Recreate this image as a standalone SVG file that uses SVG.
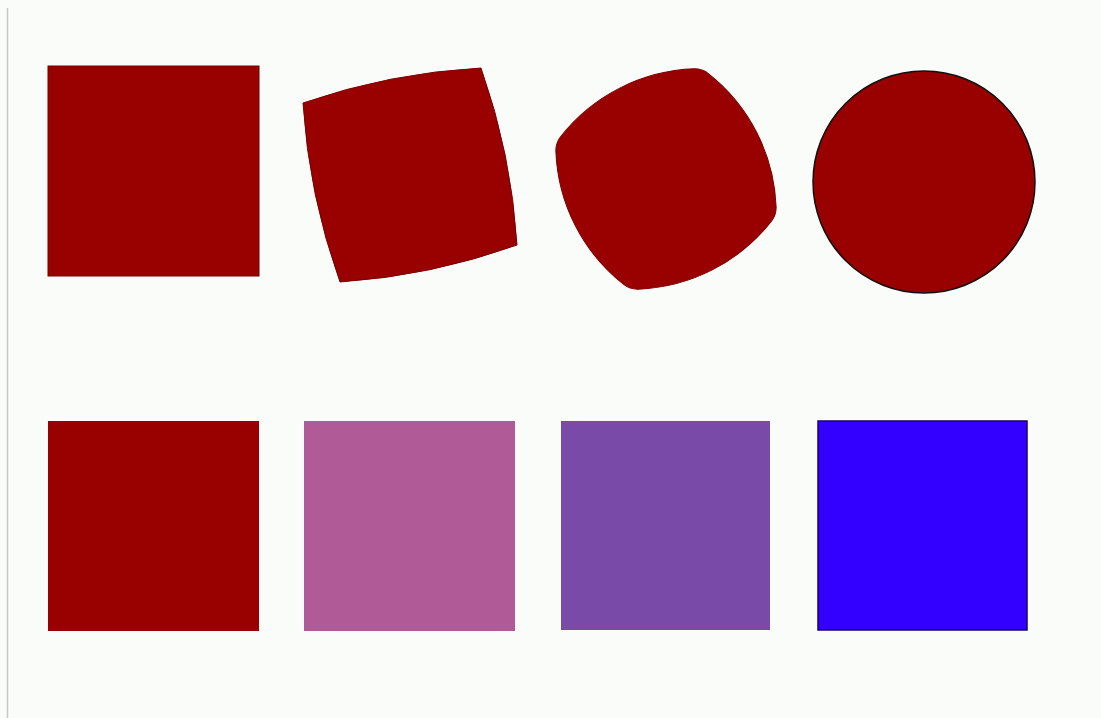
<svg xmlns="http://www.w3.org/2000/svg" width="1101" height="718" viewBox="0 0 1101 718">
<style>
.red{fill:#990000;stroke:#7a0000;stroke-width:1}
</style>
<rect x="0" y="0" width="1101" height="718" fill="#f9fcf9"/>
<line x1="7.5" y1="8" x2="7.5" y2="718" stroke="#c8c8c8" stroke-width="1.5"/>
<g id="square-1"><rect class="red" x="48" y="66" width="211" height="210"/></g>
<g id="morph-1"><path class="red" d="M303,103 A650,650 0 0 1 481,68 A650,650 0 0 1 517,245 A650,650 0 0 1 340,282 A650,650 0 0 1 303,103 Z"/></g>
<g id="morph-2"><path class="red" transform="translate(666,179) rotate(-27)" d="M-75,-85.4 A178.1,178.1 0 0 1 75,-85.4 Q82,-82 85.4,-75 A178.1,178.1 0 0 1 85.4,75 Q82,82 75,85.4 A178.1,178.1 0 0 1 -75,85.4 Q-82,82 -85.4,75 A178.1,178.1 0 0 1 -85.4,-75 Q-82,-82 -75,-85.4 Z"/></g>
<g id="circle"><circle cx="924" cy="182" r="111" fill="#990000" stroke="#111" stroke-width="1.5"/></g>
<g id="color-1"><rect x="48" y="421" width="211" height="210" fill="#990000"/></g>
<g id="color-2"><rect x="304" y="421" width="211" height="210" fill="#b05a98"/></g>
<g id="color-3"><rect x="561" y="421" width="209" height="209" fill="#7a4aa8"/></g>
<g id="color-4"><rect x="818" y="421" width="209" height="209" fill="#3300ff" stroke="#1a0066" stroke-width="1.5"/></g>
<g id="connectors"></g>
</svg>
